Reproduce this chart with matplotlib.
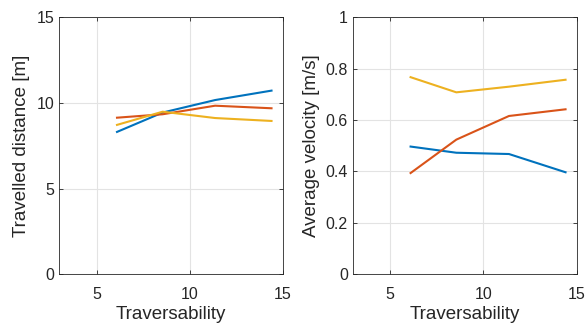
import numpy as np
import matplotlib.pyplot as plt

plt.rcParams['font.family'] = ['Liberation Sans', 'DejaVu Sans']

# traversability values (x)
trav = [6.1, 8.55, 11.37, 14.4]

# travelled distance [m]
dist_blue = [8.31, 9.44, 10.17, 10.72]
dist_red = [9.14, 9.34, 9.84, 9.69]
dist_yellow = [8.72, 9.49, 9.12, 8.95]

# average velocity [m/s]
vel_blue = [0.497, 0.473, 0.468, 0.397]
vel_red = [0.394, 0.524, 0.616, 0.642]
vel_yellow = [0.767, 0.708, 0.730, 0.757]

colors = ['#0072BD', '#D95319', '#EDB120']


def style_axes(ax):
    ax.set_xlim(3, 15)
    ax.set_xticks([5, 10, 15])
    ax.grid(True, color='#e3e3e3', linewidth=0.8)
    ax.set_axisbelow(True)
    ax.tick_params(direction='in', top=True, right=True, length=3,
                   labelsize=11.5, colors='#262626', width=0.6)
    ax.tick_params(axis='x', pad=9)
    for s in ax.spines.values():
        s.set_color('#262626')
        s.set_linewidth(0.6)
    ax.set_xlabel('Traversability', fontsize=13.5, color='#262626', labelpad=3)


fig = plt.figure(figsize=(5.86, 3.25), dpi=100)
ax1 = fig.add_axes([0.1012, 0.156, 0.3812, 0.7908])
ax2 = fig.add_axes([0.6019, 0.156, 0.3823, 0.7908])

for ys, c in zip([dist_blue, dist_red, dist_yellow], colors):
    ax1.plot(trav, ys, color=c, linewidth=1.5)
style_axes(ax1)
ax1.set_ylim(0, 15)
ax1.set_yticks([0, 5, 10, 15])
ax1.set_ylabel('Travelled distance [m]', fontsize=13.5, color='#262626', labelpad=5)

for ys, c in zip([vel_blue, vel_red, vel_yellow], colors):
    ax2.plot(trav, ys, color=c, linewidth=1.5)
style_axes(ax2)
ax2.set_ylim(0, 1)
ax2.set_yticks([0, 0.2, 0.4, 0.6, 0.8, 1])
ax2.set_yticklabels(['0', '0.2', '0.4', '0.6', '0.8', '1'])
ax2.set_ylabel('Average velocity [m/s]', fontsize=13.5, color='#262626', labelpad=4)

fig.savefig('out.png', dpi=100)
